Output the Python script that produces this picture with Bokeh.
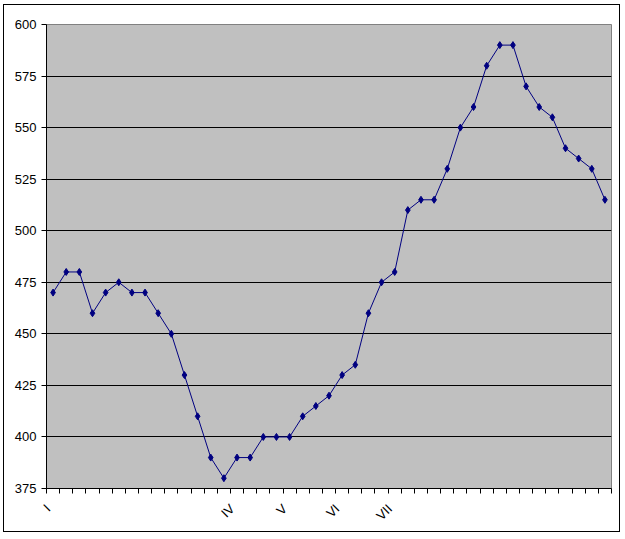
import math
from bokeh.plotting import figure
from bokeh.models import FixedTicker, Range1d, ColumnDataSource
from bokeh.embed import file_html
from bokeh.resources import INLINE

# ---- data ----
x_labels = ["I", "", "", "", "", "", "", "", "", "", "", "", "", "",
            "IV", "", "", "",
            "V", "", "", "",
            "VI", "", "", "",
            "VII", "", "", "", "", "", "", "", "", "", "", "", "", "", "", "", ""]
values = [470, 480, 480, 460, 470, 475, 470, 470, 460, 450,
          430, 410, 390, 380, 390, 390, 400, 400, 400, 410,
          415, 420, 430, 435, 460, 475, 480, 510, 515, 515,
          530, 550, 560, 580, 590, 590, 570, 560, 555, 540,
          535, 530, 515]
y_ticks = [375, 400, 425, 450, 475, 500, 525, 550, 575, 600]

idx = list(range(len(x_labels)))
src = ColumnDataSource(data=dict(x=idx, y=values))

p = figure(width=617, height=528, output_backend="svg", toolbar_location=None,
           x_range=Range1d(-0.5, len(x_labels) - 0.5),
           y_range=Range1d(y_ticks[0], y_ticks[-1]),
           min_border_left=42, min_border_right=10,
           min_border_top=19, min_border_bottom=45)
p.styles = {"border": "1px solid black", "margin-left": "3px", "margin-top": "4px"}

p.background_fill_color = "#C0C0C0"
p.border_fill_color = "white"
p.outline_line_color = "#808080"
p.outline_line_width = 1

p.xgrid.visible = False
p.ygrid.ticker = FixedTicker(ticks=y_ticks[1:-1])
p.ygrid.grid_line_color = "black"
p.ygrid.grid_line_width = 1

FONT = "Liberation Sans"

# y axis
ya = p.yaxis[0]
ya.ticker = FixedTicker(ticks=y_ticks)
ya.axis_line_color = "black"
ya.major_tick_line_color = "black"
ya.major_tick_in = 0
ya.major_tick_out = 5
ya.minor_tick_line_color = None
ya.major_label_text_font = FONT
ya.major_label_text_font_size = "13px"
ya.major_label_text_color = "black"
ya.major_label_standoff = 5

# x axis: labels anchored slightly left of each category centre (as Excel draws them)
LABEL_SHIFT = 0.375
lab_pos = [i for i, s in enumerate(x_labels) if s]
lab_ticks = [i - LABEL_SHIFT for i in lab_pos]
xa = p.xaxis[0]
xa.ticker = FixedTicker(ticks=lab_ticks, minor_ticks=[i - 0.5 for i in range(len(x_labels) + 1)])
xa.major_label_overrides = {t: x_labels[i] for t, i in zip(lab_ticks, lab_pos)}
xa.axis_line_color = "black"
xa.major_tick_in = 0
xa.major_tick_out = 0
xa.major_tick_line_color = None
xa.minor_tick_in = 0
xa.minor_tick_out = 5
xa.minor_tick_line_color = "black"
xa.major_label_orientation = math.pi / 4
xa.major_label_text_font = FONT
xa.major_label_text_font_size = "13px"
xa.major_label_text_color = "black"
xa.major_label_standoff = 13

p.line("x", "y", source=src, line_color="#000080", line_width=1)
p.scatter("x", "y", source=src, marker="diamond", size=7,
          fill_color="#000080", line_color="#000080")

open("out.html", "w").write(file_html(p, INLINE))
